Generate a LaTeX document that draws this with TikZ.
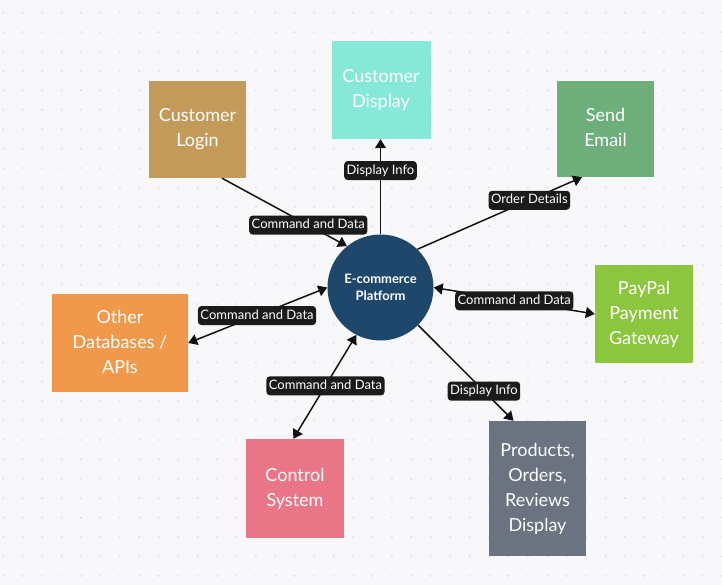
\documentclass[tikz,border=0pt]{standalone}
\usepackage{fontspec}
\setmainfont{Lato}
\usetikzlibrary{arrows.meta,calc}
\definecolor{bg}{HTML}{F8F8FB}
\definecolor{dotc}{HTML}{D6D6DC}
\definecolor{clogin}{HTML}{C49A5B}
\definecolor{cdisp}{HTML}{86E8D6}
\definecolor{cemail}{HTML}{6DAE7B}
\definecolor{cpay}{HTML}{8CC63E}
\definecolor{cdb}{HTML}{F0994A}
\definecolor{cctrl}{HTML}{E97686}
\definecolor{cprod}{HTML}{6B7380}
\definecolor{ccirc}{HTML}{1E476B}
\definecolor{lblbg}{HTML}{1B1B1B}
\definecolor{linec}{HTML}{111111}
\newcommand{\boxtext}[1]{\raisebox{-3pt}{\begin{tabular}{@{}c@{}}#1\end{tabular}}}
\tikzset{
  box/.style={rectangle, draw=none, text=white, inner sep=0pt,
    font=\fontsize{18}{25}\selectfont},
  hub/.style={circle, fill=ccirc, text=white, align=center, inner sep=0pt,
    minimum size=106pt, font=\fontsize{13}{17.7}\selectfont\bfseries},
  conn/.style={draw=linec, line width=1.5pt},
  arr/.style={-{Triangle[length=9pt,width=11pt]}},
  biarr/.style={{Triangle[length=9pt,width=11pt]}-{Triangle[length=9pt,width=11pt]}},
  lbl/.style={fill=lblbg, text=white, rounded corners=3.5pt, inner xsep=2.5pt,
    inner ysep=3.5pt, text height=9.5pt, text depth=2.5pt,
    font=\fontsize{13}{15}\selectfont},
}
\begin{document}
\begin{tikzpicture}[x=1pt,y=-1pt]
\fill[bg] (0,0) rectangle (722,585);
\useasboundingbox (0,0) rectangle (722,585);
\foreach \i in {0,...,37} {
  \foreach \j in {0,...,29} {
    \fill[dotc] (3.3+19.43*\i, 12.7+19.42*\j) circle[radius=0.9pt];
  }
}
% nodes
\node[hub] (c) at (380.5,287.5) {E-commerce\\Platform};
\node[box, fill=clogin, minimum width=97pt, minimum height=97pt] (login) at (197.5,129.5) {\boxtext{Customer\\Login}};
\node[box, fill=cdisp, minimum width=99pt, minimum height=98pt] (disp) at (381,90) {\boxtext{Customer\\Display}};
\node[box, fill=cemail, minimum width=97pt, minimum height=96pt] (email) at (605.5,129) {\boxtext{Send\\Email}};
\node[box, fill=cpay, minimum width=98pt, minimum height=98pt] (pay) at (644,314) {\boxtext{PayPal\\Payment\\Gateway}};
\node[box, fill=cdb, minimum width=136pt, minimum height=98pt] (db) at (120,343) {\boxtext{Other\\Databases /\\APIs}};
\node[box, fill=cctrl, minimum width=98pt, minimum height=99pt] (ctrl) at (295,488.5) {\boxtext{Control\\System}};
\node[box, fill=cprod, minimum width=97pt, minimum height=135pt] (prod) at (537.5,488.5) {\boxtext{Products,\\Orders,\\Reviews\\Display}};
% connectors
\draw[conn, arr] ($(login.south)+(24.5,0)$) -- node[lbl, pos=0.69] {Command and Data} (c.129);
\draw[conn, arr] (c.north) -- node[lbl, pos=0.67] {Display Info} (c.north |- disp.south);
\draw[conn, arr] (c.46) -- node[lbl, pos=0.68] {Order Details} ($(email.south)+(-23.5,0)$);
\draw[conn, biarr] (c.east) -- node[lbl, pos=0.5] {Command and Data} (pay.west);
\draw[conn, biarr] (c.west) -- node[lbl, pos=0.505] {Command and Data} (db.east);
\draw[conn, biarr] (c.243) -- node[lbl, pos=0.49] {Command and Data} ($(ctrl.north)+(-1.7,0)$);
\draw[conn, arr] (c.315) -- node[lbl, pos=0.69] {Display Info} ($(prod.north)+(-24,0)$);
\end{tikzpicture}
\end{document}
